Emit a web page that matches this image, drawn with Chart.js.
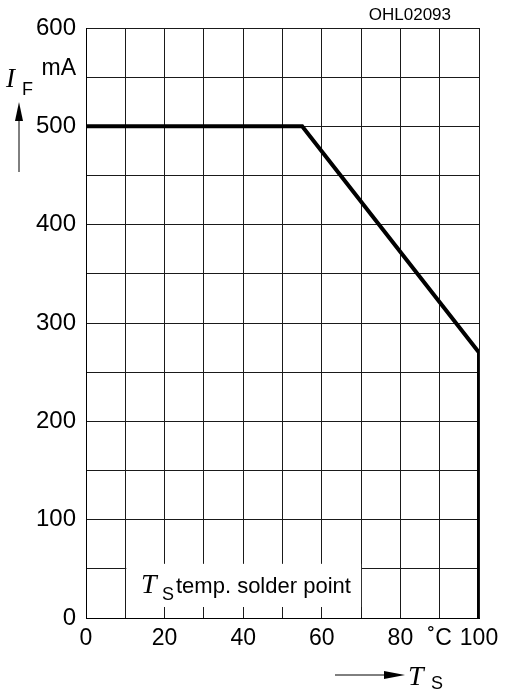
<!DOCTYPE html>
<html>
<head>
<meta charset="utf-8">
<script src="https://cdn.jsdelivr.net/npm/chart.js@4/dist/chart.umd.min.js"></script>
<style>
  html, body { margin: 0; padding: 0; background: #fff; }
  #wrap { width: 506px; height: 689px; position: relative; }
</style>
</head>
<body>
<div id="wrap"><canvas id="c" width="506" height="689"></canvas></div>
<script>
// ---- data ----
const temperatures = [0, 55, 100, 100];      // T_S in °C
const currents     = [500, 500, 270, 0];     // I_F in mA
const xTickValues  = [0, 20, 40, 60, 80, 100];
const yTickValues  = [0, 100, 200, 300, 400, 500, 600];
const xUnitLabel   = '˚C';
const yUnitLabel   = 'mA';
const figureCode   = 'OHL02093';
const boxLabel     = 'temp. solder point';

const points = temperatures.map((t, i) => ({ x: t, y: currents[i] }));
const SANS = '"Liberation Sans", Arial, sans-serif';
const SERIF = '"Liberation Serif", "Times New Roman", serif';

const annotate = {
  id: 'annotate',
  afterDraw(chart) {
    const ctx = chart.ctx;
    const xs = chart.scales.x, ys = chart.scales.y;
    ctx.save();
    // white label box inside plot
    const bx0 = xs.getPixelForValue(10), bx1 = xs.getPixelForValue(70);
    const by0 = ys.getPixelForValue(50) - 5, by1 = ys.getPixelForValue(0) - 11;
    ctx.fillStyle = '#fff';
    ctx.fillRect(bx0 + 1, by0, bx1 - bx0 - 1, by1 - by0);
    ctx.fillStyle = '#000';
    ctx.textBaseline = 'alphabetic';
    ctx.textAlign = 'left';
    ctx.font = 'italic 28px ' + SERIF;
    ctx.fillText('T', 141, 593);
    ctx.font = '18px ' + SANS;
    ctx.fillText('S', 162, 600);
    ctx.font = '22px ' + SANS;
    ctx.fillText(boxLabel, 176, 593);

    // unit mA
    ctx.textAlign = 'right';
    ctx.font = '23px ' + SANS;
    ctx.fillText(yUnitLabel, 76, 75);

    // figure code
    ctx.font = '17px ' + SANS;
    ctx.fillText(figureCode, 451, 20);

    // I_F label
    ctx.textAlign = 'left';
    ctx.font = 'italic 27px ' + SERIF;
    ctx.fillText('I', 6, 87);
    ctx.font = '18px ' + SANS;
    ctx.fillText('F', 22, 95);

    // up arrow
    ctx.strokeStyle = '#000';
    ctx.lineWidth = 1;
    ctx.beginPath();
    ctx.moveTo(19, 172); ctx.lineTo(19, 118);
    ctx.stroke();
    ctx.beginPath();
    ctx.moveTo(19, 102); ctx.lineTo(23, 121); ctx.lineTo(15, 121); ctx.closePath();
    ctx.fill();

    // right arrow + T_S
    ctx.beginPath();
    ctx.moveTo(335, 675); ctx.lineTo(388, 675);
    ctx.stroke();
    ctx.beginPath();
    ctx.moveTo(405, 675); ctx.lineTo(384, 671); ctx.lineTo(384, 679); ctx.closePath();
    ctx.fill();
    ctx.font = 'italic 28px ' + SERIF;
    ctx.fillText('T', 408, 685);
    ctx.font = '18px ' + SANS;
    ctx.fillText('S', 431, 689);
    ctx.restore();
  }
};

new Chart(document.getElementById('c'), {
  type: 'scatter',
  data: {
    datasets: [{
      data: points,
      showLine: true,
      borderColor: '#000',
      borderWidth: 4,
      borderJoinStyle: 'miter',
      pointRadius: 0,
      pointHoverRadius: 0,
      fill: false,
      tension: 0
    }]
  },
  options: {
    responsive: false,
    animation: false,
    events: [],
    layout: { padding: { top: 28, right: 27, left: 0, bottom: 0 } },
    plugins: { legend: { display: false }, tooltip: { enabled: false } },
    scales: {
      x: {
        type: 'linear',
        min: 0, max: 100,
        afterFit(s) { s.height = 71; },
        afterBuildTicks(s) {
          const out = [];
          for (let v = 0; v <= 100; v += 10) out.push({ value: v });
          s.ticks = out;
        },
        ticks: {
          autoSkip: false, maxRotation: 0, padding: 7,
          color: '#000',
          font: { family: SANS, size: 23 },
          callback(v) {
            if (xTickValues.includes(v)) return String(v);
            if (v === 90) return xUnitLabel;
            return '';
          }
        },
        grid: { color: '#1a1a1a', lineWidth: 1, drawTicks: false },
        border: { color: '#000', width: 1 }
      },
      y: {
        type: 'linear',
        min: 0, max: 600,
        afterFit(s) { s.width = 86; },
        afterBuildTicks(s) {
          const out = [];
          for (let v = 0; v <= 600; v += 50) out.push({ value: v });
          s.ticks = out;
        },
        ticks: {
          autoSkip: false, padding: 10,
          color: '#000',
          font: { family: SANS, size: 24 },
          callback(v) { return yTickValues.includes(v) ? String(v) : ''; }
        },
        grid: { color: '#1a1a1a', lineWidth: 1, drawTicks: false },
        border: { color: '#000', width: 1 }
      }
    }
  },
  plugins: [annotate]
});
</script>
</body>
</html>
